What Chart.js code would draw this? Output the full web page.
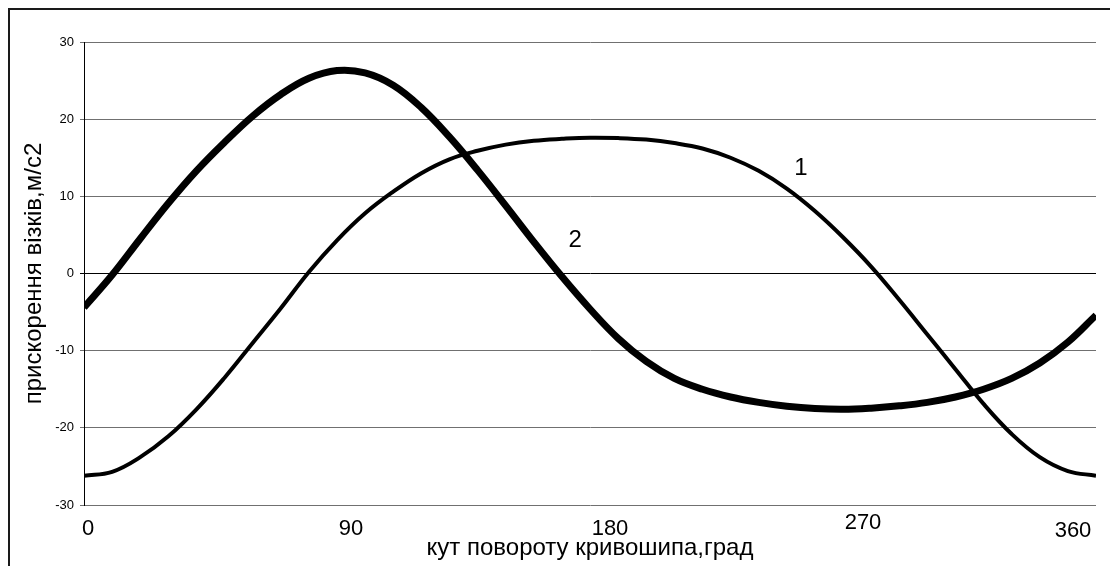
<!DOCTYPE html>
<html>
<head>
<meta charset="utf-8">
<script src="https://cdn.jsdelivr.net/npm/chart.js@4.4.1/dist/chart.umd.min.js"></script>
<style>
  html, body { margin: 0; padding: 0; background: #fff; }
  #wrap { width: 1110px; height: 566px; position: relative; }
</style>
</head>
<body>
<div id="wrap"><canvas id="chart"></canvas></div>
<script>
// Crank angle, degrees
const angles = [0, 10, 20, 30, 40, 50, 60, 70, 80, 90, 100, 110, 120, 130, 140, 150, 160, 170, 180,
                190, 200, 210, 220, 230, 240, 250, 260, 270, 280, 290, 300, 310, 320, 330, 340, 350, 360];

// Carriage acceleration, m/s2 — curve 1
const accel1 = [-26.2, -25.7, -23.8, -21.1, -17.6, -13.5, -9.0, -4.5, 0.2, 4.3, 7.8, 10.6, 13.0, 14.8, 15.9, 16.7, 17.2, 17.45, 17.6,
                17.55, 17.35, 16.9, 16.2, 15.0, 13.3, 11.0, 8.1, 4.7, 0.9, -3.4, -7.9, -12.4, -16.9, -20.8, -23.8, -25.6, -26.2];

// Carriage acceleration, m/s2 — curve 2
const accel2 = [-4.4, -0.2, 4.5, 9.1, 13.3, 17.0, 20.4, 23.2, 25.3, 26.3, 26.0, 24.4, 21.5, 17.7, 13.4, 8.8, 4.1, -0.4, -4.6,
                -8.4, -11.4, -13.6, -15.0, -16.0, -16.7, -17.2, -17.5, -17.6, -17.45, -17.15, -16.7, -16.0, -15.0, -13.6, -11.6, -8.9, -5.4];

const curveNames = ['1', '2'];
const angleTicks = [0, 90, 180, 270, 360];
const angleTickLabels = ['0', '90', '180', '270', '360'];

// Where the curve numbers sit (angle, acceleration)
const tagAnchors = [{ x: 255, y: 13.6 }, { x: 174.7, y: 4.3 }];
// Fine placement of the angle labels under the axis, px
const xLabelShift = [[4, 0], [14, 0], [20, 0], [20, -6], [-23, 2]];

const FONT = '"Liberation Sans", Arial, sans-serif';

const frame = {
  id: 'frame',
  afterDraw(chart) {
    const c = chart.ctx;
    c.save();
    c.fillStyle = '#1a1a1a';
    c.fillRect(8, 8, chart.width - 8, 2);
    c.fillRect(8, 8, 2, chart.height - 8);
    c.restore();
  }
};

const nudgeXLabels = {
  id: 'nudgeXLabels',
  beforeDraw(chart) {
    const sc = chart.scales.x;
    const items = sc.getLabelItems(chart.chartArea);
    items.forEach((it, i) => {
      if (it._nudged) return;
      const s = xLabelShift[i] || [0, 0];
      it.options.translation[0] += s[0];
      it.options.translation[1] += s[1];
      it._nudged = true;
    });
  }
};

const curveTags = {
  id: 'curveTags',
  afterDatasetsDraw(chart) {
    const c = chart.ctx;
    const xs = chart.scales.x, ys = chart.scales.y;
    c.save();
    c.fillStyle = '#000';
    c.font = '24px ' + FONT;
    c.textAlign = 'center';
    c.textBaseline = 'middle';
    curveNames.forEach((name, i) => {
      const a = tagAnchors[i];
      c.fillText(name, xs.getPixelForValue(a.x), ys.getPixelForValue(a.y));
    });
    c.restore();
  }
};

new Chart(document.getElementById('chart'), {
  type: 'line',
  data: {
    datasets: [
      {
        label: curveNames[0],
        data: angles.map((a, i) => ({ x: a, y: accel1[i] })),
        borderColor: '#000',
        borderWidth: 4,
        pointRadius: 0,
        tension: 0.4,
        fill: false
      },
      {
        label: curveNames[1],
        data: angles.map((a, i) => ({ x: a, y: accel2[i] })),
        borderColor: '#000',
        borderWidth: 7,
        pointRadius: 0,
        tension: 0.4,
        fill: false
      }
    ]
  },
  options: {
    responsive: true,
    maintainAspectRatio: false,
    animation: false,
    events: [],
    layout: { padding: { top: 42, right: 14, left: 0, bottom: 0 } },
    plugins: {
      legend: { display: false },
      tooltip: { enabled: false }
    },
    scales: {
      x: {
        type: 'linear',
        min: 0,
        max: 360,
        afterBuildTicks: s => { s.ticks = angleTicks.map(v => ({ value: v })); },
        afterFit: s => { s.height = 61; s.paddingLeft = 0; s.paddingRight = 0; },
        grid: { display: false },
        border: { display: false },
        ticks: {
          autoSkip: false,
          maxRotation: 0,
          padding: 3,
          color: '#000',
          font: { family: FONT, size: 22 },
          callback: (v, i) => angleTickLabels[i]
        },
        title: {
          display: true,
          text: 'кут повороту кривошипа,град',
          color: '#000',
          font: { family: FONT, size: 24 },
          padding: { top: 0, bottom: 3 }
        }
      },
      y: {
        type: 'linear',
        min: -30,
        max: 30,
        afterFit: s => { s.width = 84; s.paddingTop = 0; s.paddingBottom = 0; },
        ticks: {
          stepSize: 10,
          padding: 6,
          color: '#000',
          font: { family: FONT, size: 13 }
        },
        grid: {
          color: ctx => (ctx.tick && ctx.tick.value === 0 ? '#000' : '#707070'),
          lineWidth: 1,
          tickLength: 4
        },
        border: { display: true, color: '#000', width: 1 },
        title: {
          display: true,
          text: 'прискорення візків,м/с2',
          color: '#000',
          font: { family: FONT, size: 24 },
          padding: { top: 20, bottom: 0 }
        }
      }
    }
  },
  plugins: [nudgeXLabels, curveTags, frame]
});
</script>
</body>
</html>
